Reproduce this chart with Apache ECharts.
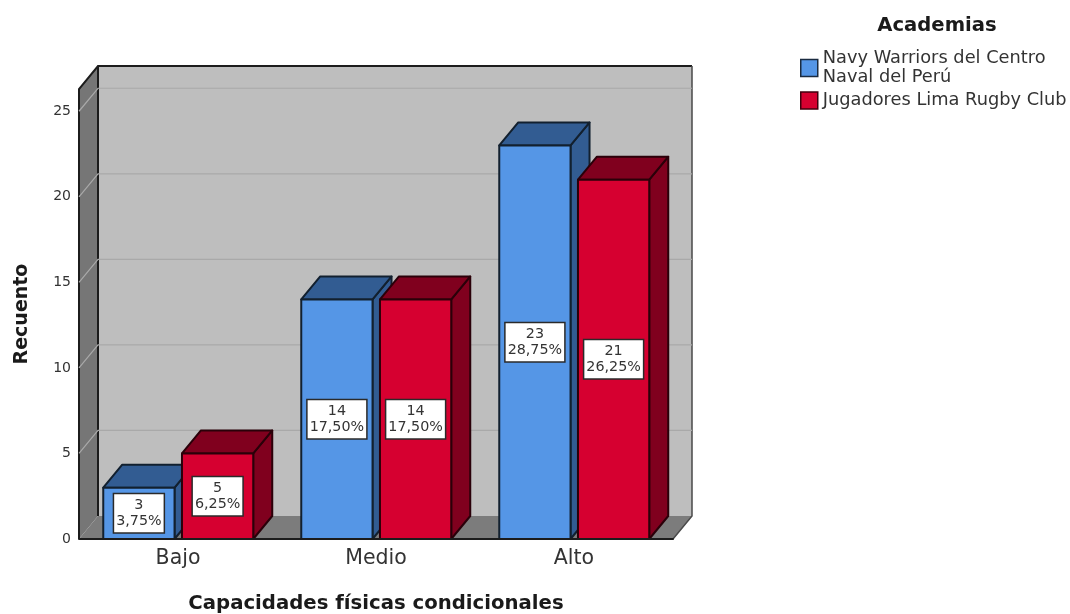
<!DOCTYPE html>
<html>
<head>
<meta charset="utf-8">
<style>html,body{margin:0;padding:0;background:#fff}#chart{width:1070px;height:614px}</style>
<script src="https://cdn.jsdelivr.net/npm/echarts@6/dist/echarts.min.js"></script>
</head>
<body>
<div id="chart"></div>
<script>
// Counts of athletes by physical-capacity level and academy
const categories = ['Bajo', 'Medio', 'Alto'];
const navyName = 'Navy Warriors del Centro Naval del Perú';
const rugbyName = 'Jugadores Lima Rugby Club';
const navyCounts = [3, 14, 23];
const rugbyCounts = [5, 14, 21];
const navyShares = ['3,75%', '17,50%', '28,75%'];
const rugbyShares = ['6,25%', '17,50%', '26,25%'];
const yTicks = [0, 5, 10, 15, 20, 25];
const yMax = 26.3;

// Oblique projection of the chart box
const DEPTH_X = 19, DEPTH_Y = 23;
const FONT = '"DejaVu Sans", sans-serif';

const poly = (points, fill, stroke, lineWidth) => ({
  type: 'polygon',
  shape: { points },
  style: { fill, stroke, lineWidth: lineWidth === undefined ? 2 : lineWidth, lineJoin: 'round' },
  silent: true
});

function renderWalls(params, api) {
  const bl = api.coord([0, 0]);
  const tl = api.coord([0, yMax]);
  const left = params.coordSys.x, right = params.coordSys.x + params.coordSys.width;
  const bottom = bl[1], top = tl[1];
  const dx = DEPTH_X, dy = DEPTH_Y;
  return {
    type: 'group',
    children: [
      poly([[left + dx, top - dy], [right + dx, top - dy], [right + dx, bottom - dy], [left + dx, bottom - dy]], '#bebebe', null, 0),
      poly([[left, bottom], [right, bottom], [right + dx, bottom - dy], [left + dx, bottom - dy]], '#7c7c7c', null, 0),
      poly([[left, top], [left + dx, top - dy], [left + dx, bottom - dy], [left, bottom]], '#767676', null, 0),
      { type: 'polyline', shape: { points: [[left, bottom], [left, top], [left + dx, top - dy], [right + dx, top - dy]] }, style: { fill: null, stroke: '#1c1c1c', lineWidth: 2 }, silent: true },
      { type: 'line', shape: { x1: left + dx, y1: top - dy, x2: left + dx, y2: bottom - dy }, style: { stroke: '#1c1c1c', lineWidth: 2 }, silent: true },
      { type: 'polyline', shape: { points: [[right + dx, top - dy], [right + dx, bottom - dy], [right, bottom]] }, style: { fill: null, stroke: '#4a4a4a', lineWidth: 1.5 }, silent: true }
    ]
  };
}

function renderGridline(params, api) {
  const value = api.value(0);
  if (value === 0) return null;
  const y = api.coord([0, value])[1];
  const left = params.coordSys.x, right = params.coordSys.x + params.coordSys.width;
  return {
    type: 'polyline',
    shape: { points: [[left, y], [left + DEPTH_X, y - DEPTH_Y], [right + DEPTH_X, y - DEPTH_Y]] },
    style: { fill: null, stroke: '#a9a9a9', lineWidth: 1.2 },
    silent: true
  };
}

// Draws one 3D box with its boxed value/percentage label
function barRenderer(side, shares, faceColor, shadeColor, edgeColor) {
  return function (params, api) {
    const idx = api.value(0), value = api.value(1);
    const base = api.coord([idx, 0]);
    const head = api.coord([idx, value]);
    const band = api.size([1, 0])[0];
    const width = band * 0.36, gap = band * 0.035;
    const x0 = side < 0 ? base[0] - gap / 2 - width : base[0] + gap / 2 + 0.5;
    const x1 = x0 + width;
    const yB = base[1], yT = head[1];
    const dx = DEPTH_X, dy = DEPTH_Y;
    const cx = (x0 + x1) / 2, cy = (yB + yT) / 2;
    return {
      type: 'group',
      children: [
        poly([[x1, yT], [x1 + dx, yT - dy], [x1 + dx, yB - dy], [x1, yB]], shadeColor, edgeColor),
        poly([[x0, yT], [x0 + dx, yT - dy], [x1 + dx, yT - dy], [x1, yT]], shadeColor, edgeColor),
        poly([[x0, yT], [x1, yT], [x1, yB], [x0, yB]], faceColor, edgeColor),
        {
          type: 'text',
          style: {
            x: cx, y: cy, text: value + '\n' + shares[idx], align: 'center', verticalAlign: 'middle',
            fill: '#333', font: '14.3px ' + FONT, lineHeight: 15.5,
            backgroundColor: '#fff', borderColor: '#2a2a2a', borderWidth: 1.5, padding: [4, 2, 3, 2]
          },
          silent: true
        }
      ]
    };
  };
}

const option = {
  animation: false,
  textStyle: { fontFamily: FONT },
  title: {
    text: 'Academias', left: 932, top: 11, textAlign: 'center',
    textStyle: { fontFamily: FONT, fontSize: 19.6, fontWeight: 'bold', color: '#1a1a1a' }
  },
  legend: {
    orient: 'vertical', left: 800, top: 49, padding: 0, itemWidth: 17, itemHeight: 17, itemGap: 4,
    icon: 'rect', selectedMode: false,
    formatter: name => name === navyName ? 'Navy Warriors del Centro\nNaval del Perú' : name,
    textStyle: { fontFamily: FONT, fontSize: 17.8, color: '#333', lineHeight: 19 },
    data: [
      { name: navyName, itemStyle: { color: '#5596e6', borderColor: '#1a2b40', borderWidth: 1.5 } },
      { name: rugbyName, itemStyle: { color: '#d60030', borderColor: '#40000e', borderWidth: 1.5 } }
    ]
  },
  grid: { left: 79, right: 397, top: 89, bottom: 75, outerBoundsMode: 'none' },
  xAxis: {
    type: 'category', data: categories, name: 'Capacidades físicas condicionales',
    nameLocation: 'middle', nameGap: 55,
    nameTextStyle: { fontFamily: FONT, fontSize: 19.7, fontWeight: 'bold', color: '#1a1a1a' },
    axisLine: { show: true, lineStyle: { color: '#1c1c1c', width: 2 } },
    axisTick: { show: false },
    axisLabel: { fontFamily: FONT, fontSize: 20.5, color: '#333', margin: 9 },
    splitLine: { show: false }, z: 10
  },
  yAxis: {
    type: 'value', min: 0, max: yMax, interval: 5, name: 'Recuento',
    nameLocation: 'middle', nameGap: 47,
    nameTextStyle: { fontFamily: FONT, fontSize: 19, fontWeight: 'bold', color: '#1a1a1a' },
    axisLine: { show: false }, axisTick: { show: false },
    axisLabel: { fontFamily: FONT, fontSize: 14, color: '#333', margin: 8, showMaxLabel: false, padding: [3, 0, 0, 0] },
    splitLine: { show: false }
  },
  series: [
    { type: 'custom', name: 'walls', data: [[0]], renderItem: renderWalls, silent: true, z: 1, encode: { y: 0 } },
    { type: 'custom', name: 'gridlines', data: yTicks.map(t => [t]), renderItem: renderGridline, silent: true, z: 2, encode: { y: 0 } },
    {
      type: 'custom', name: navyName, z: 3, itemStyle: { color: '#5596e6' },
      data: navyCounts.map((v, i) => [i, v]), encode: { x: 0, y: 1 },
      renderItem: barRenderer(-1, navyShares, '#5596e6', '#325c92', '#12202f')
    },
    {
      type: 'custom', name: rugbyName, z: 4, itemStyle: { color: '#d60030' },
      data: rugbyCounts.map((v, i) => [i, v]), encode: { x: 0, y: 1 },
      renderItem: barRenderer(1, rugbyShares, '#d60030', '#80001e', '#2a0009')
    }
  ]
};

echarts.init(document.getElementById('chart'), null, { renderer: 'canvas' }).setOption(option);
</script>
</body>
</html>
